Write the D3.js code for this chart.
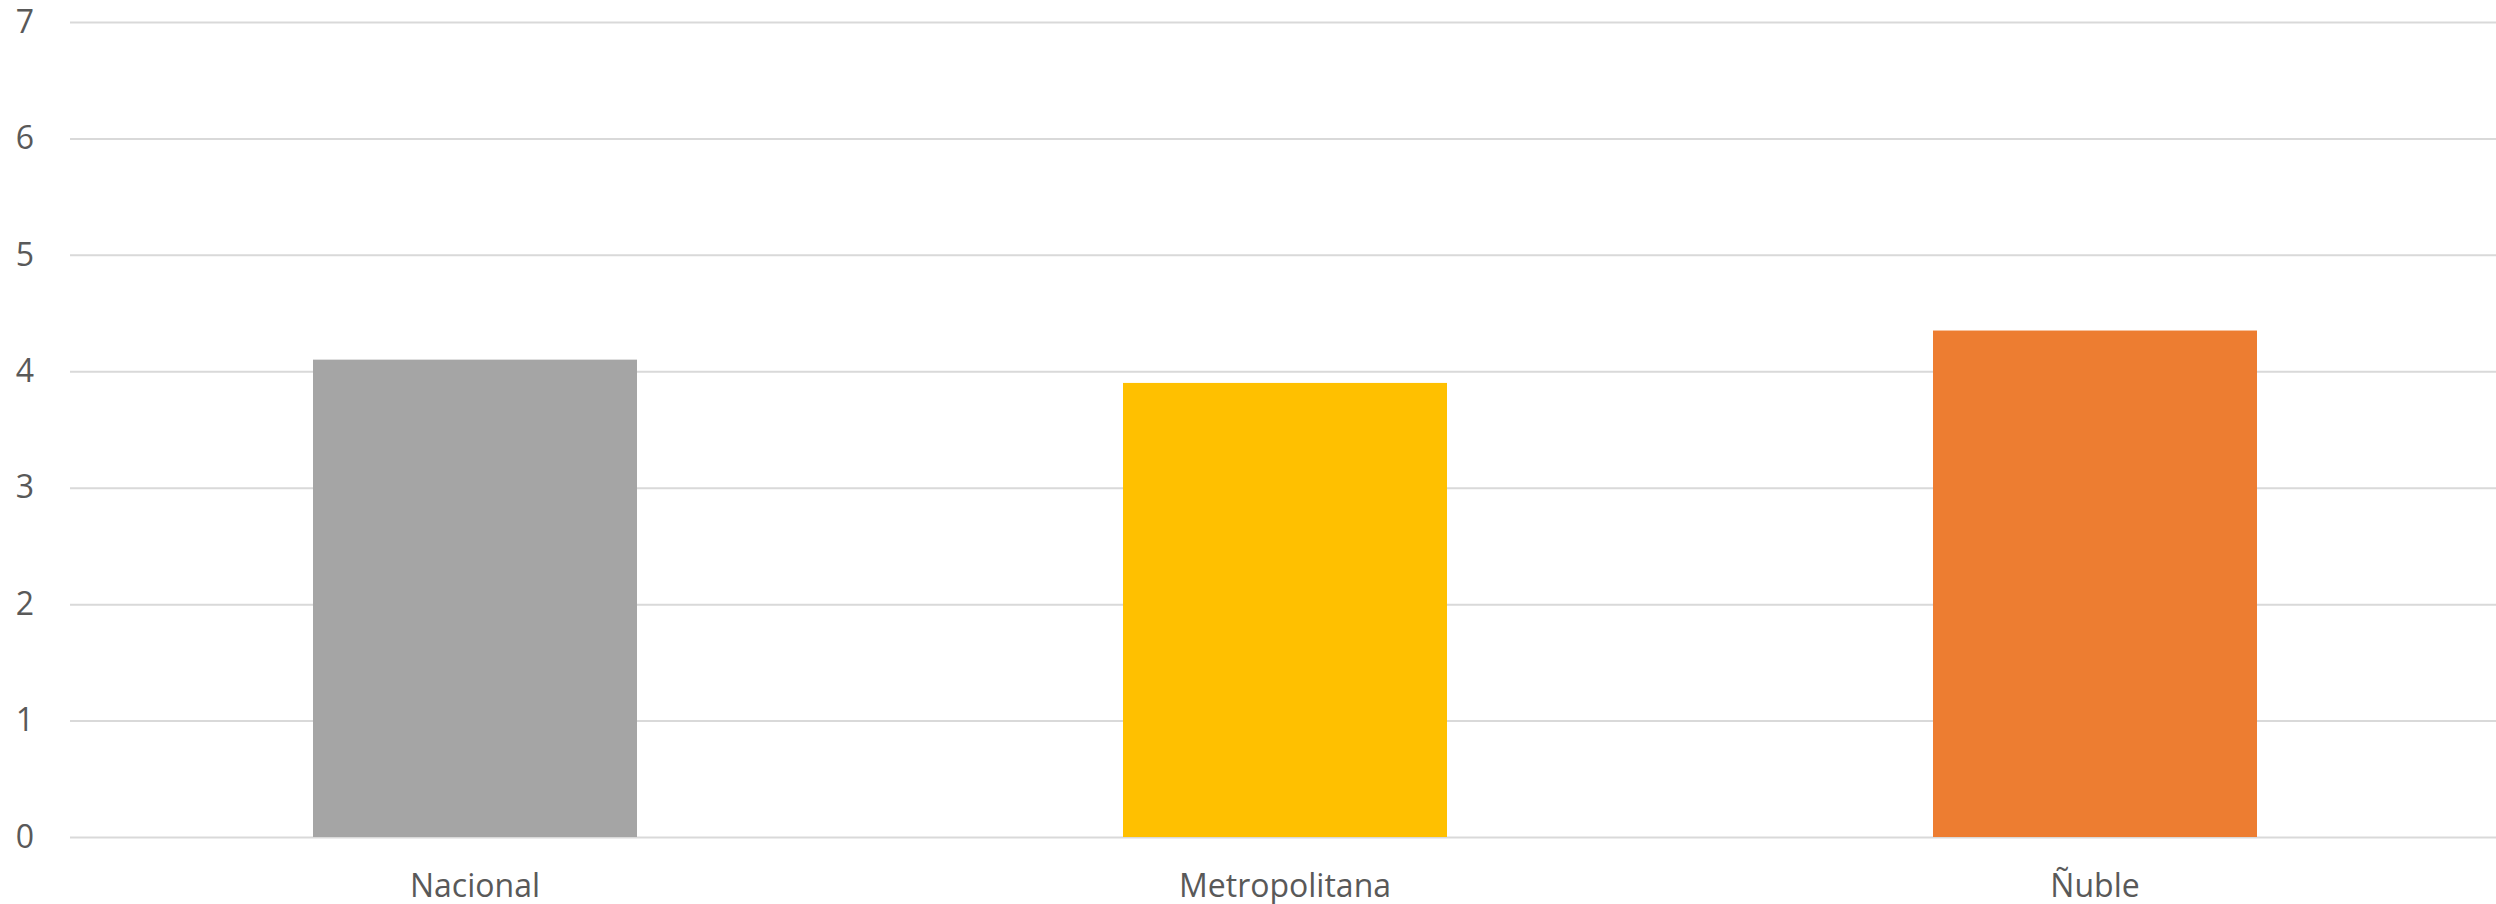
<!DOCTYPE html>
<html lang="es">
<head>
    <meta charset="UTF-8">
    <title>Chart</title>
    <script src="https://d3js.org/d3.v7.min.js"></script>
    <style>
        * { margin: 0; padding: 0; }
        body { background: #fff; }
        svg text { font-family: "Open Sans", sans-serif; fill: #595959; }
    </style>
</head>
<body>
    <svg width="2496" height="904"></svg>
    <script>
        var categories = ["Nacional", "Metropolitana", "Ñuble"];
        var values = [4.1, 3.9, 4.35];
        var colors = ["#a5a5a5", "#ffc000", "#ed7d31"];
        var yTicks = [0, 1, 2, 3, 4, 5, 6, 7];

        var svg = d3.select("svg");
        var plotLeft = 70, plotRight = 2500, plotTop = 22, plotBottom = 837;

        var x = d3.scaleBand().domain(categories).range([plotLeft, plotRight]).padding(0);
        var y = d3.scaleLinear().domain([0, 7]).range([plotBottom, plotTop]);
        var barW = x.bandwidth() * 0.4;

        // y axis with gridlines spanning the plot
        var yAxis = svg.append("g")
            .attr("transform", "translate(" + plotRight + ",0)")
            .call(d3.axisLeft(y)
                .tickValues(yTicks)
                .tickSize(plotRight - plotLeft)
                .tickPadding(36)
                .tickFormat(d3.format("d")));
        yAxis.select(".domain").remove();
        yAxis.selectAll(".tick line")
            .attr("stroke", "#d9d9d9")
            .attr("stroke-width", 2);
        yAxis.selectAll(".tick text")
            .attr("fill", "#595959")
            .style("font-family", "'Open Sans', sans-serif")
            .style("font-size", "32px");

        // bars
        svg.append("g").selectAll("rect")
            .data(values)
            .enter().append("rect")
            .attr("x", function (d, i) { return x(categories[i]) + x.bandwidth() / 2 - barW / 2; })
            .attr("width", barW)
            .attr("y", function (d) { return y(d); })
            .attr("height", function (d) { return y(0) - y(d); })
            .attr("fill", function (d, i) { return colors[i]; });

        // category labels
        svg.append("g").selectAll("text")
            .data(categories)
            .enter().append("text")
            .attr("x", function (d) { return x(d) + x.bandwidth() / 2; })
            .attr("y", 897)
            .attr("text-anchor", "middle")
            .style("font-size", "32px")
            .text(function (d) { return d; });
    </script>
</body>
</html>
